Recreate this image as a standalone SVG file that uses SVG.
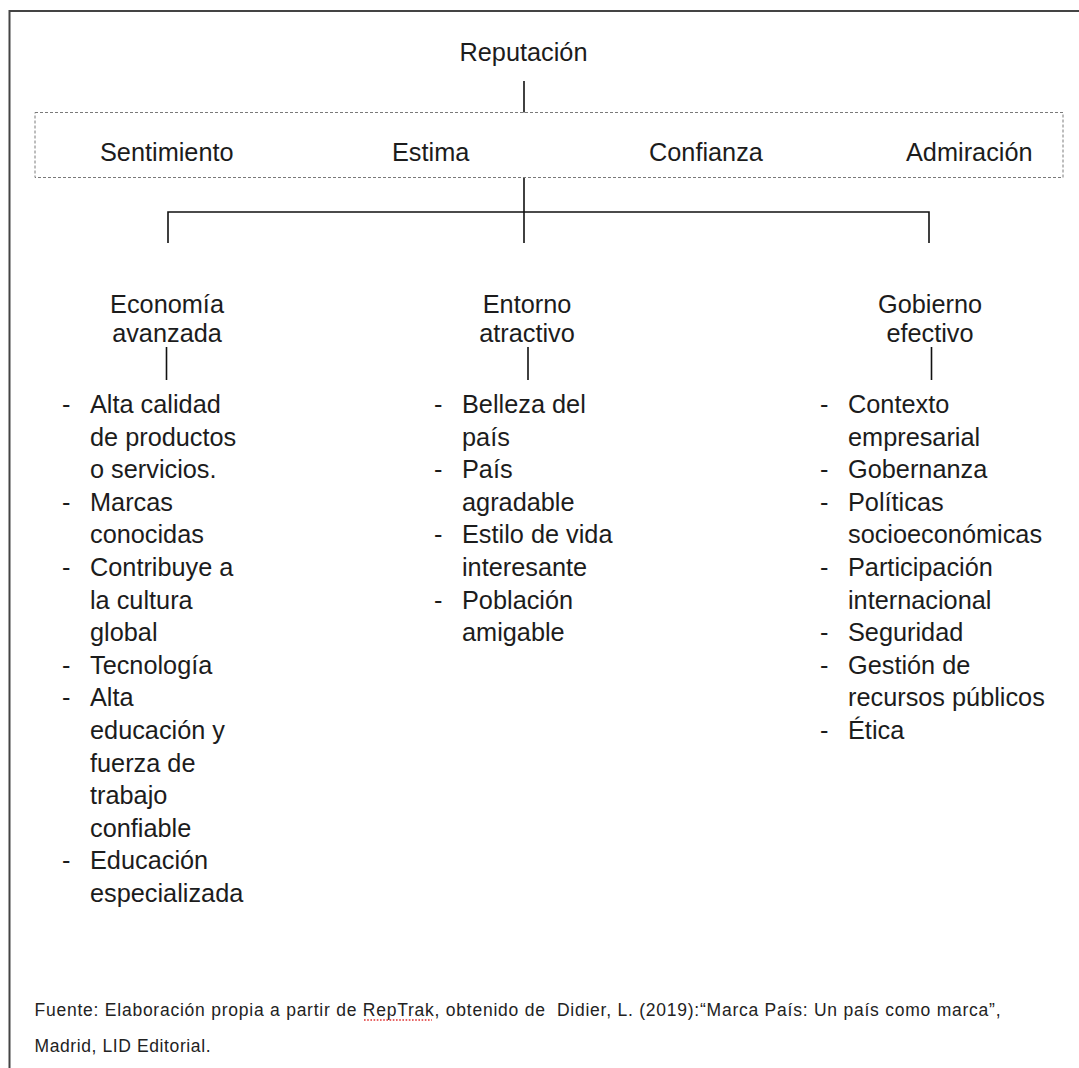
<svg xmlns="http://www.w3.org/2000/svg" width="1079" height="1068" viewBox="0 0 1079 1068">
<style>
.t{font-family:"Liberation Sans",Arial,Helvetica,sans-serif;font-size:25.3px;fill:#1c1c1c}
.c{text-anchor:middle}
.ln{stroke:#111;stroke-width:1.6;fill:none}
.fn{font-family:"Liberation Sans",Arial,Helvetica,sans-serif;font-size:17.5px;fill:#222;white-space:pre}
</style>
<rect x="0" y="0" width="1079" height="1068" fill="#fff"/>
<g id="frame">
<line x1="9.5" y1="11" x2="1079" y2="11" stroke="#444" stroke-width="2"/>
<line x1="9.5" y1="10" x2="9.5" y2="1068" stroke="#444" stroke-width="2"/>
</g>
<g id="connectors">
<line class="ln" x1="524" y1="81" x2="524" y2="112.5"/>
<line class="ln" x1="524" y1="177.5" x2="524" y2="243"/>
<polyline class="ln" points="168,243 168,212 929,212 929,243"/>
<line class="ln" x1="166.5" y1="347" x2="166.5" y2="380"/>
<line class="ln" x1="528" y1="347" x2="528" y2="380"/>
<line class="ln" x1="931.5" y1="347" x2="931.5" y2="380"/>
</g>
<g id="reputacion">
<text class="t c" x="523.5" y="61">Reputación</text>
</g>
<g id="dimensiones">
<rect x="35" y="112.5" width="1028" height="65" fill="none" stroke="#7a7a7a" stroke-width="1" stroke-dasharray="3,2"/>
<text class="t" x="100" y="161">Sentimiento</text>
<text class="t" x="392" y="161">Estima</text>
<text class="t" x="649" y="161">Confianza</text>
<text class="t" x="906" y="161">Admiración</text>
</g>
<g id="economia">
<text class="t c" x="167" y="313">Economía</text>
<text class="t c" x="167" y="342">avanzada</text>
<text class="t" x="62" y="413">-</text>
<text class="t" x="62" y="510.8">-</text>
<text class="t" x="62" y="576">-</text>
<text class="t" x="62" y="673.8">-</text>
<text class="t" x="62" y="706.4">-</text>
<text class="t" x="62" y="869.4">-</text>
<text class="t" x="90" y="413">Alta calidad</text>
<text class="t" x="90" y="445.6">de productos</text>
<text class="t" x="90" y="478.2">o servicios.</text>
<text class="t" x="90" y="510.8">Marcas</text>
<text class="t" x="90" y="543.4">conocidas</text>
<text class="t" x="90" y="576">Contribuye a</text>
<text class="t" x="90" y="608.6">la cultura</text>
<text class="t" x="90" y="641.2">global</text>
<text class="t" x="90" y="673.8">Tecnología</text>
<text class="t" x="90" y="706.4">Alta</text>
<text class="t" x="90" y="739">educación y</text>
<text class="t" x="90" y="771.6">fuerza de</text>
<text class="t" x="90" y="804.2">trabajo</text>
<text class="t" x="90" y="836.8">confiable</text>
<text class="t" x="90" y="869.4">Educación</text>
<text class="t" x="90" y="902">especializada</text>
</g>
<g id="entorno">
<text class="t c" x="527" y="313">Entorno</text>
<text class="t c" x="527" y="342">atractivo</text>
<text class="t" x="434" y="413">-</text>
<text class="t" x="434" y="478.2">-</text>
<text class="t" x="434" y="543.4">-</text>
<text class="t" x="434" y="608.6">-</text>
<text class="t" x="462" y="413">Belleza del</text>
<text class="t" x="462" y="445.6">país</text>
<text class="t" x="462" y="478.2">País</text>
<text class="t" x="462" y="510.8">agradable</text>
<text class="t" x="462" y="543.4">Estilo de vida</text>
<text class="t" x="462" y="576">interesante</text>
<text class="t" x="462" y="608.6">Población</text>
<text class="t" x="462" y="641.2">amigable</text>
</g>
<g id="gobierno">
<text class="t c" x="930" y="313">Gobierno</text>
<text class="t c" x="930" y="342">efectivo</text>
<text class="t" x="820" y="413">-</text>
<text class="t" x="820" y="478.2">-</text>
<text class="t" x="820" y="510.8">-</text>
<text class="t" x="820" y="576">-</text>
<text class="t" x="820" y="641.2">-</text>
<text class="t" x="820" y="673.8">-</text>
<text class="t" x="820" y="739">-</text>
<text class="t" x="848" y="413">Contexto</text>
<text class="t" x="848" y="445.6">empresarial</text>
<text class="t" x="848" y="478.2">Gobernanza</text>
<text class="t" x="848" y="510.8">Políticas</text>
<text class="t" x="848" y="543.4">socioeconómicas</text>
<text class="t" x="848" y="576">Participación</text>
<text class="t" x="848" y="608.6">internacional</text>
<text class="t" x="848" y="641.2">Seguridad</text>
<text class="t" x="848" y="673.8">Gestión de</text>
<text class="t" x="848" y="706.4">recursos públicos</text>
<text class="t" x="848" y="739">Ética</text>
</g>
<g id="fuente">
<text class="fn" x="34.5" y="1015.5" textLength="966" lengthAdjust="spacing">Fuente: Elaboración propia a partir de RepTrak, obtenido de  Didier, L. (2019):“Marca País: Un país como marca”,</text>
<line x1="364" y1="1020" x2="432" y2="1020" stroke="#e03030" stroke-width="1.6" stroke-dasharray="1.6,1.6"/>
<text class="fn" x="34.5" y="1051.5" textLength="176" lengthAdjust="spacing">Madrid, LID Editorial.</text>
</g>
</svg>
